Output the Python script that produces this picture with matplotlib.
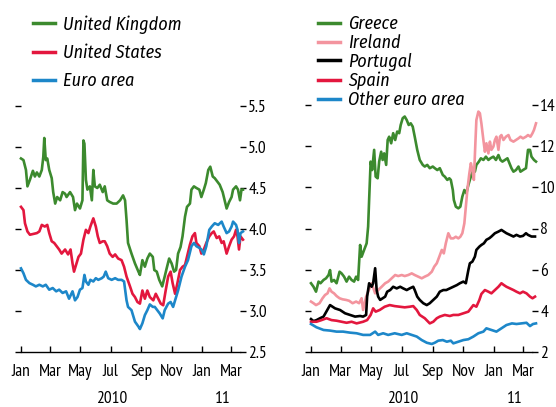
import numpy as np
import pandas as pd
import matplotlib
matplotlib.use("Agg")
import matplotlib.pyplot as plt

plt.rcParams['font.family'] = ['PT Sans Narrow', 'Roboto Condensed', 'DejaVu Sans']
legend_family = ['Fira Sans Condensed', 'Roboto Condensed', 'DejaVu Sans']

# ---- data: days since 1 Jan 2010, yields in % ----
uk_days = [0, 5, 10, 13, 18, 24, 28, 32, 37, 42, 45, 47, 50, 53, 57, 62, 65, 69, 73, 79,
           84, 89, 92, 99, 105, 109, 113, 119, 124, 126, 128, 131, 134, 139, 143, 146, 149,
           154, 159, 165, 169, 174, 179, 186, 193, 200, 206, 210, 213, 216, 223, 230, 237,
           240, 245, 250, 255, 260, 266, 269, 274, 279, 285, 290, 294, 299, 304, 309, 313,
           317, 322, 326, 331, 335, 341, 344, 349, 354, 360, 364, 369, 373, 378, 382, 387,
           391, 396, 401, 407, 411, 415, 420, 425, 428, 434, 438, 442, 445, 448]
uk_vals = [4.86, 4.84, 4.72, 4.52, 4.60, 4.71, 4.64, 4.69, 4.64, 4.72, 4.88, 5.11, 4.84, 4.86,
           4.72, 4.62, 4.45, 4.31, 4.39, 4.35, 4.45, 4.43, 4.39, 4.45, 4.39, 4.23, 4.31, 4.25,
           4.35, 5.08, 5.04, 4.60, 4.48, 4.52, 4.35, 4.72, 4.52, 4.50, 4.54, 4.45, 4.52, 4.35,
           4.33, 4.31, 4.31, 4.35, 4.41, 4.35, 4.11, 3.83, 3.70, 3.58, 3.48, 3.44, 3.62, 3.54,
           3.64, 3.70, 3.66, 3.50, 3.48, 3.38, 3.30, 3.42, 3.52, 3.64, 3.58, 3.48, 3.50, 3.70,
           3.78, 3.91, 4.15, 4.27, 4.31, 4.48, 4.52, 4.50, 4.48, 4.39, 4.48, 4.56, 4.72, 4.76,
           4.64, 4.62, 4.58, 4.54, 4.45, 4.35, 4.25, 4.33, 4.39, 4.48, 4.52, 4.48, 4.35, 4.48,
           4.48]

us_days = [0, 5, 8, 13, 18, 25, 32, 37, 42, 48, 53, 57, 62, 67, 72, 77, 82, 89, 95, 100,
           104, 107, 111, 116, 121, 126, 131, 136, 140, 146, 151, 155, 159, 165, 169, 174,
           179, 185, 190, 196, 203, 208, 213, 220, 225, 230, 235, 240, 245, 250, 255, 260,
           267, 272, 277, 282, 287, 292, 297, 302, 306, 311, 315, 321, 326, 331, 335, 341,
           346, 351, 354, 360, 364, 369, 374, 380, 385, 389, 395, 400, 405, 409, 415, 420,
           425, 430, 434, 437, 440, 443, 448]
us_vals = [4.27, 4.23, 4.07, 3.97, 3.93, 3.94, 3.95, 3.97, 4.05, 4.03, 4.05, 3.95, 3.85, 3.83,
           3.79, 3.75, 3.70, 3.75, 3.69, 3.75, 3.58, 3.48, 3.56, 3.66, 3.70, 3.87, 3.99, 3.95,
           4.03, 4.13, 4.03, 3.91, 3.83, 3.85, 3.85, 3.79, 3.70, 3.66, 3.69, 3.64, 3.62, 3.54,
           3.42, 3.30, 3.21, 3.17, 3.11, 3.09, 3.25, 3.15, 3.25, 3.17, 3.13, 3.21, 3.15, 3.09,
           3.07, 3.25, 3.42, 3.48, 3.34, 3.21, 3.32, 3.50, 3.54, 3.56, 3.66, 3.81, 3.91, 3.95,
           3.83, 3.79, 3.70, 3.75, 3.83, 3.91, 3.95, 3.97, 3.89, 3.91, 3.83, 3.85, 3.70, 3.79,
           3.87, 3.91, 3.99, 3.91, 3.75, 3.91, 3.87]

ea_days = [0, 5, 10, 17, 24, 30, 37, 44, 50, 57, 64, 71, 77, 84, 91, 97, 104, 109, 114, 119,
           124, 128, 131, 136, 140, 146, 151, 156, 163, 167, 171, 176, 183, 190, 196, 203,
           208, 213, 216, 223, 230, 237, 240, 245, 250, 255, 260, 266, 270, 275, 280, 286,
           290, 297, 302, 307, 313, 317, 324, 331, 337, 344, 349, 354, 360, 364, 369, 374,
           380, 385, 391, 398, 405, 409, 415, 420, 425, 428, 434, 437, 440, 443, 448]
ea_vals = [3.52, 3.46, 3.38, 3.34, 3.32, 3.30, 3.32, 3.30, 3.32, 3.26, 3.28, 3.24, 3.26, 3.22,
           3.24, 3.15, 3.24, 3.13, 3.17, 3.26, 3.28, 3.44, 3.36, 3.32, 3.38, 3.36, 3.40, 3.38,
           3.40, 3.42, 3.48, 3.40, 3.38, 3.40, 3.38, 3.38, 3.36, 3.13, 3.05, 3.01, 2.87, 2.81,
           2.78, 2.85, 2.95, 3.01, 3.08, 3.05, 3.05, 3.01, 2.97, 2.91, 3.01, 3.09, 3.11, 3.05,
           3.17, 3.25, 3.42, 3.54, 3.62, 3.79, 3.83, 3.79, 3.77, 3.75, 3.69, 3.79, 3.99, 4.03,
           4.07, 4.05, 4.09, 4.03, 3.95, 3.97, 4.03, 4.09, 4.05, 3.99, 3.83, 3.95, 3.97]

gr_days = [0, 5, 10, 15, 19, 25, 30, 35, 38, 41, 46, 51, 57, 61, 66, 71, 76, 81, 86, 90,
           94, 98, 101, 106, 111, 114, 116, 119, 122, 126, 129, 133, 136, 140, 143, 146, 150,
           153, 156, 160, 164, 168, 172, 176, 179, 183, 187, 191, 195, 199, 203, 207, 212,
           217, 223, 227, 232, 237, 243, 247, 252, 257, 263, 267, 272, 276, 279, 283, 285,
           289, 294, 298, 302, 306, 310, 314, 317, 320, 324, 327, 330, 335, 339, 344, 349,
           354, 358, 364, 369, 374, 378, 382, 387, 392, 396, 400, 404, 409, 414, 418, 423,
           429, 433, 437, 440, 445, 449]
gr_vals = [5.34, 5.17, 4.93, 5.42, 5.34, 5.50, 5.58, 5.74, 5.98, 5.42, 5.50, 5.34, 5.90, 5.82,
           5.66, 5.42, 5.66, 5.50, 5.42, 5.66, 5.50, 7.20, 6.63, 6.96, 7.28, 8.09, 9.39, 11.25,
           10.84, 11.82, 10.52, 10.44, 11.25, 11.73, 11.33, 11.65, 11.09, 12.30, 12.46, 12.14,
           12.63, 12.30, 12.71, 12.63, 13.03, 13.36, 13.44, 13.27, 13.03, 13.11, 12.95, 12.46,
           11.82, 11.33, 11.09, 11.01, 11.09, 10.93, 11.01, 10.93, 10.84, 10.93, 10.60, 10.52,
           10.36, 10.44, 10.36, 9.87, 9.39, 9.06, 8.98, 9.06, 9.55, 9.87, 9.71, 10.11, 10.36,
           10.60, 10.84, 10.76, 11.09, 11.25, 11.41, 11.33, 11.49, 11.33, 11.41, 11.49, 11.33,
           11.57, 11.33, 11.25, 11.33, 11.41, 11.17, 10.93, 10.76, 10.84, 11.01, 10.76, 10.84,
           10.93, 11.82, 11.82, 11.49, 11.33, 11.25]

ie_days = [0, 5, 10, 17, 23, 28, 33, 37, 41, 46, 51, 57, 63, 70, 76, 83, 90, 96, 101, 104,
           110, 121, 128, 134, 141, 148, 154, 161, 168, 174, 181, 187, 194, 201, 207, 214,
           221, 227, 234, 241, 246, 251, 256, 261, 265, 269, 274, 279, 284, 289, 294, 298,
           302, 306, 309, 312, 316, 319, 322, 325, 328, 330, 334, 337, 340, 344, 347, 350,
           354, 357, 360, 364, 367, 370, 374, 377, 380, 384, 389, 394, 398, 404, 409, 414,
           418, 423, 429, 433, 438, 442, 445, 449]
ie_vals = [4.45, 4.37, 4.28, 4.37, 4.61, 4.77, 4.85, 5.09, 4.93, 4.85, 4.72, 4.61, 4.56, 4.53,
           4.49, 4.37, 4.45, 4.37, 4.61, 4.04, 4.69, 5.34, 4.85, 5.01, 5.17, 5.34, 5.42, 5.58,
           5.74, 5.69, 5.74, 5.69, 5.74, 5.82, 5.74, 5.66, 5.58, 5.66, 5.74, 5.90, 6.15, 6.31,
           6.63, 6.96, 6.79, 7.28, 7.77, 7.52, 7.52, 7.60, 7.52, 7.60, 7.77, 8.25, 9.06, 9.87,
           10.68, 11.17, 10.84, 10.36, 12.14, 13.27, 13.68, 13.60, 13.11, 12.30, 11.73, 12.14,
           11.65, 12.22, 11.82, 11.98, 12.30, 12.46, 11.82, 12.46, 12.54, 12.30, 12.46, 12.54,
           12.30, 12.22, 12.30, 12.38, 12.46, 12.38, 12.46, 12.54, 12.46, 12.63, 12.79, 13.11]

pt_days = [0, 5, 11, 18, 25, 38, 48, 58, 68, 78, 88, 98, 104, 110, 112, 116, 121, 124, 128,
           131, 134, 138, 143, 148, 152, 158, 164, 171, 178, 184, 191, 197, 204, 207, 212,
           217, 224, 231, 237, 244, 251, 257, 264, 270, 277, 284, 291, 297, 304, 309, 314,
           317, 322, 327, 330, 336, 340, 345, 350, 356, 360, 367, 374, 380, 385, 390, 397,
           404, 410, 417, 423, 429, 433, 440, 447]
pt_vals = [3.60, 3.50, 3.55, 3.64, 3.72, 4.28, 4.12, 4.04, 3.88, 3.80, 3.72, 3.75, 3.72, 3.80,
           4.69, 5.34, 5.17, 5.34, 6.07, 5.01, 4.69, 4.53, 4.61, 4.69, 4.93, 5.01, 5.17, 5.09,
           5.17, 5.09, 5.01, 5.09, 5.17, 5.01, 4.69, 4.53, 4.37, 4.28, 4.37, 4.53, 4.69, 4.93,
           5.01, 5.01, 5.09, 5.17, 5.25, 5.34, 5.42, 5.34, 5.98, 6.31, 6.39, 6.63, 6.96, 7.12,
           7.20, 7.28, 7.45, 7.53, 7.61, 7.77, 7.85, 7.93, 7.85, 7.77, 7.69, 7.61, 7.69, 7.61,
           7.64, 7.77, 7.69, 7.61, 7.61]

es_days = [0, 11, 21, 31, 41, 51, 61, 71, 81, 91, 104, 112, 119, 124, 129, 137, 147, 157,
           167, 177, 187, 197, 204, 211, 217, 227, 237, 244, 251, 257, 267, 277, 284, 294,
           304, 314, 324, 330, 336, 340, 347, 354, 360, 367, 374, 380, 385, 390, 397, 404,
           410, 417, 423, 430, 437, 442, 447]
es_vals = [3.47, 3.47, 3.55, 3.64, 3.55, 3.52, 3.47, 3.42, 3.47, 3.39, 3.47, 3.55, 3.80, 4.12,
           3.96, 4.04, 4.20, 4.28, 4.23, 4.20, 4.17, 4.20, 4.23, 4.04, 3.80, 3.64, 3.39, 3.47,
           3.64, 3.72, 3.80, 3.75, 3.80, 3.80, 3.88, 3.96, 4.28, 4.20, 4.53, 4.82, 5.01, 4.93,
           4.85, 5.01, 5.17, 5.34, 5.25, 5.17, 5.09, 5.01, 4.93, 4.85, 4.93, 4.85, 4.69, 4.61,
           4.69]

oe_days = [0, 11, 25, 38, 51, 64, 78, 91, 104, 118, 128, 134, 144, 154, 167, 181, 191, 201,
           211, 221, 231, 241, 247, 254, 263, 271, 279, 284, 294, 304, 314, 324, 334, 344,
           350, 360, 370, 380, 390, 401, 410, 420, 430, 437, 443, 449]
oe_vals = [3.36, 3.20, 3.07, 3.04, 2.99, 2.99, 2.94, 2.91, 2.83, 2.83, 2.99, 2.83, 2.91, 2.83,
           2.91, 2.83, 2.91, 2.83, 2.75, 2.58, 2.45, 2.39, 2.45, 2.55, 2.58, 2.50, 2.55, 2.42,
           2.50, 2.58, 2.62, 2.75, 2.91, 2.99, 3.15, 3.07, 2.99, 3.15, 3.31, 3.39, 3.36, 3.39,
           3.42, 3.26, 3.36, 3.39]

month_labels = ['Jan', 'Mar', 'May', 'Jul', 'Sep', 'Nov', 'Jan', 'Mar']
start = pd.Timestamp('2010-01-01')
month_ticks = (pd.date_range('2010-01-01', '2011-03-01', freq='2MS') - start).days
year_labels = ['2010', '11']
year_pos = [182, 407]

left_ticks = [2.5, 3.0, 3.5, 4.0, 4.5, 5.0, 5.5]
right_ticks = [2, 4, 6, 8, 10, 12, 14]

GREEN = '#3c8a2e'
RED = '#e3173e'
BLUE = '#1d87c9'
PINK = '#f3949e'
BLACK = '#000000'

fig = plt.figure(figsize=(5.56, 4.07), dpi=100)
# axes end where the right-hand tick dashes sit; the series run a few days past it
ax1 = fig.add_axes([21 / 556, 55 / 407, 219 / 556, 246 / 407])
ax2 = fig.add_axes([311 / 556, 55 / 407, 221 / 556, 247 / 407])

lw = 1.9
ax1.plot(uk_days, uk_vals, color=GREEN, lw=lw, label='United Kingdom', clip_on=False)
ax1.plot(us_days, us_vals, color=RED, lw=lw, label='United States', clip_on=False)
ax1.plot(ea_days, ea_vals, color=BLUE, lw=lw, label='Euro area', clip_on=False)

ax2.plot(gr_days, gr_vals, color=GREEN, lw=lw, label='Greece', clip_on=False)
ax2.plot(ie_days, ie_vals, color=PINK, lw=lw, label='Ireland', clip_on=False)
ax2.plot(pt_days, pt_vals, color=BLACK, lw=lw, label='Portugal', clip_on=False)
ax2.plot(es_days, es_vals, color=RED, lw=lw, label='Spain', clip_on=False)
ax2.plot(oe_days, oe_vals, color=BLUE, lw=lw, label='Other euro area', clip_on=False)

for ax, ticks, lim, fmt, xmax in [(ax1, left_ticks, (2.5, 5.5), '{:.1f}', 442),
                                  (ax2, right_ticks, (2, 14), '{:d}', 441)]:
    ax.set_xlim(0, xmax)
    ax.set_ylim(*lim)
    for s in ['left', 'right', 'top']:
        ax.spines[s].set_visible(False)
    ax.spines['bottom'].set_linewidth(1.0)
    ax.set_yticks(ticks)
    ax.set_yticklabels([fmt.format(t) for t in ticks])
    ax.tick_params(axis='y', left=True, right=True, labelleft=False, labelright=True,
                   direction='out', length=4, width=1, pad=2, labelsize=12.5)
    ax.set_xticks(month_ticks)
    ax.set_xticklabels(month_labels)
    ax.tick_params(axis='x', direction='in', length=4, width=1, pad=9, labelsize=12.5)
    for lab, pos in zip(year_labels, year_pos):
        ax.text(pos, -0.19, lab, transform=ax.get_xaxis_transform(),
                ha='center', va='center', fontsize=12.5)

leg_prop = {'family': legend_family, 'style': 'italic', 'size': 13}
leg1 = fig.legend(handles=ax1.get_lines(), loc='upper left',
                  bbox_to_anchor=(33 / 556, 1 - 15 / 407), frameon=False, prop=leg_prop,
                  handlelength=1.2, handletextpad=0.45, labelspacing=0.57,
                  borderpad=0, borderaxespad=0)
for h in leg1.get_lines():
    h.set_linewidth(2.5)
leg2 = fig.legend(handles=ax2.get_lines(), loc='upper left',
                  bbox_to_anchor=(318 / 556, 1 - 15 / 407), frameon=False, prop=leg_prop,
                  handlelength=1.2, handletextpad=0.45, labelspacing=0.05,
                  borderpad=0, borderaxespad=0)
for h in leg2.get_lines():
    h.set_linewidth(2.5)

fig.savefig('out.png', dpi=100)
